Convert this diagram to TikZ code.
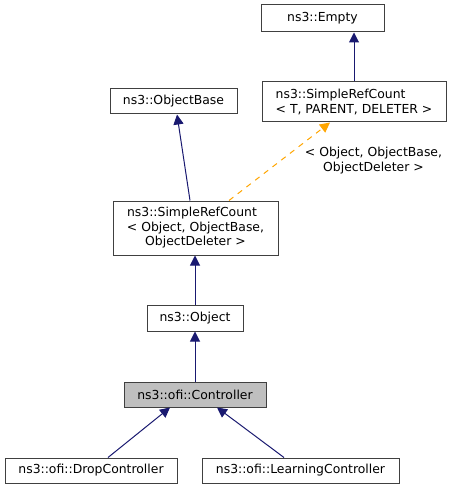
\documentclass[tikz,border=0pt]{standalone}
\usepackage{fontspec}
\setmainfont{DejaVu Sans}
\usetikzlibrary{arrows.meta}
\definecolor{edgeblue}{HTML}{191970}
\definecolor{edgeorange}{HTML}{FFA500}
\definecolor{boxborder}{HTML}{404040}
\definecolor{curfill}{HTML}{BFBFBF}
\begin{document}
\begin{tikzpicture}[x=1pt,y=-1pt,
  every node/.style={font=\fontsize{12.4}{14.5}\selectfont, inner sep=0pt},
  cls/.style={draw=boxborder, line width=1pt, fill=white, rectangle},
  inh/.style={draw=edgeblue, line width=1pt, -{Triangle[length=10pt,width=10pt]}},
  tmpl/.style={draw=edgeorange, line width=1pt, dash pattern=on 5.5pt off 5.5pt, -{Triangle[length=10pt,width=10pt]}},
]
\useasboundingbox (0,0) rectangle (452,489);
\node[cls, minimum width=123pt, minimum height=27pt] (empty) at (322.5,18.5) {ns3::Empty};
\node[cls, minimum width=184pt, minimum height=40pt, align=left] (srct) at (354,102) {ns3::SimpleRefCount\\< T, PARENT, DELETER >};
\node[cls, minimum width=127pt, minimum height=25pt] (obase) at (173.5,101.5) {ns3::ObjectBase};
\node[cls, minimum width=165pt, minimum height=54pt, align=center] (srco) at (195.5,228) {ns3::SimpleRefCount\hspace*{7pt}\\< Object, ObjectBase,\\ObjectDeleter >};
\node[cls, minimum width=96pt, minimum height=26pt] (object) at (195,318) {ns3::Object};
\node[cls, fill=curfill, minimum width=142pt, minimum height=25pt] (ctrl) at (195,394.5) {ns3::ofi::Controller};
\node[cls, minimum width=172pt, minimum height=25pt] (drop) at (91,470.5) {ns3::ofi::DropController};
\node[cls, minimum width=197pt, minimum height=25pt] (learn) at (300.5,470.5) {ns3::ofi::LearningController};
\node[align=center] (tlabel) at (373.5,160.5) {< Object, ObjectBase,\\ObjectDeleter >};

\draw[inh] (srct.north -| 354,0) -- (empty.south -| 354,0);
\draw[inh] (srco.north -| 190,0) -- (obase.south -| 177,0);
\draw[tmpl] (srco.north -| 229,0) -- (srct.south -| 330,0);
\draw[inh] (object.north -| 195,0) -- (srco.south -| 195,0);
\draw[inh] (ctrl.north -| 195,0) -- (object.south -| 195,0);
\draw[inh] (drop.north -| 108,0) -- (ctrl.south -| 170,0);
\draw[inh] (learn.north -| 284,0) -- (ctrl.south -| 217,0);
\end{tikzpicture}
\end{document}
